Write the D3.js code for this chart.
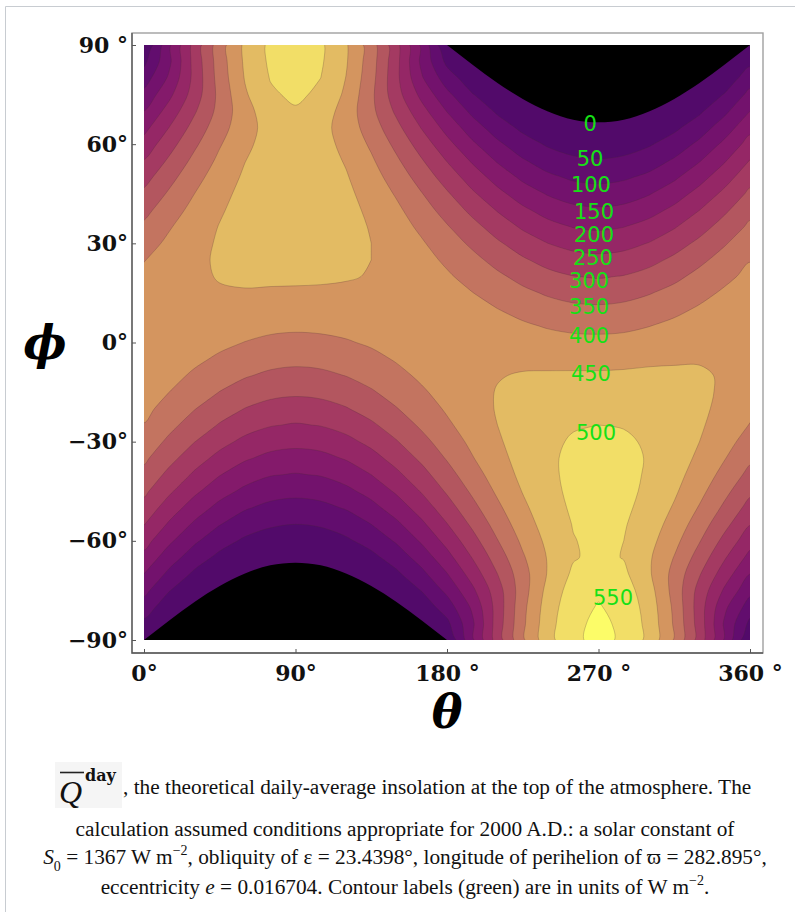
<!DOCTYPE html>
<html>
<head>
<meta charset="utf-8">
<script src="https://cdn.jsdelivr.net/npm/d3@7"></script>
<style>
  body { margin: 0; background: #fff; }
  svg { display: block; }
  .tick text { font-family: "DejaVu Serif", serif; font-weight: bold; font-size: 22px; fill: #111; }
  .tick line { stroke: #555; }
  .caption { font-family: "Liberation Serif", "Times New Roman", serif; font-size: 21.3px; fill: #111; }
  .clabel { font-family: "DejaVu Sans", sans-serif; font-size: 21px; fill: #16e016; }
</style>
</head>
<body>
<svg id="chart"></svg>
<script>
// grid the insolation was read on (degrees)
const thetaGrid = [0, 15, 30, 45, 60, 75, 90, 105, 120, 135, 150, 165, 180, 195, 210, 225, 240, 255, 270, 285, 300, 315, 330, 345, 360]
const phiGrid = [-90, -85, -80, -75, -70, -65, -60, -55, -50, -45, -40, -35, -30, -25, -20, -15, -10, -5, 0,
  5, 10, 15, 20, 25, 30, 35, 40, 45, 50, 55, 60, 65, 70, 75, 80, 85, 90]

// daily-average insolation, W m^-2 : one row per theta, values from phi = -90 to +90
const insolation = [
  [0, 38, 76, 114, 150, 185, 219, 252, 282, 310, 336, 359, 380, 398, 412, 424, 432, 437, 439, 437, 432, 424, 412, 398, 380, 359, 336, 310, 282, 252, 219, 185, 150, 114, 76, 38, 0],
  [0, 0, 19, 52, 88, 124, 159, 193, 226, 258, 287, 315, 340, 363, 383, 400, 414, 425, 432, 437, 438, 436, 431, 422, 410, 396, 378, 357, 334, 308, 281, 251, 220, 188, 158, 140, 141],
  [0, 0, 0, 12, 41, 74, 108, 142, 176, 210, 242, 272, 301, 328, 352, 374, 393, 409, 423, 433, 440, 444, 444, 442, 436, 427, 415, 400, 383, 363, 341, 318, 294, 273, 265, 268, 269],
  [0, 0, 0, 0, 12, 38, 69, 102, 135, 169, 202, 235, 266, 296, 323, 349, 372, 393, 410, 425, 438, 447, 452, 455, 455, 452, 445, 436, 425, 411, 396, 380, 367, 365, 372, 376, 378],
  [0, 0, 0, 0, 0, 16, 42, 73, 105, 139, 172, 206, 238, 270, 299, 328, 354, 377, 399, 417, 433, 447, 457, 464, 468, 469, 468, 464, 457, 449, 440, 432, 432, 444, 453, 458, 460],
  [0, 0, 0, 0, 0, 6, 28, 56, 87, 120, 153, 187, 220, 253, 284, 313, 341, 367, 390, 411, 430, 445, 458, 468, 475, 480, 481, 481, 478, 474, 469, 468, 479, 493, 502, 508, 510],
  [0, 0, 0, 0, 0, 3, 23, 50, 81, 113, 147, 180, 214, 246, 278, 308, 336, 362, 387, 408, 428, 444, 458, 469, 477, 482, 485, 486, 484, 481, 479, 480, 495, 509, 519, 525, 527],
  [0, 0, 0, 0, 0, 5, 27, 55, 87, 119, 153, 186, 219, 252, 283, 312, 340, 365, 389, 410, 428, 444, 456, 466, 473, 478, 479, 479, 476, 472, 468, 466, 478, 491, 500, 506, 508],
  [0, 0, 0, 0, 0, 16, 42, 72, 104, 138, 171, 204, 236, 268, 297, 325, 351, 375, 396, 414, 430, 443, 453, 460, 465, 466, 464, 460, 454, 446, 437, 429, 429, 441, 449, 455, 456],
  [0, 0, 0, 0, 11, 37, 68, 100, 134, 167, 200, 232, 263, 292, 320, 345, 368, 388, 406, 421, 433, 442, 448, 450, 450, 447, 441, 432, 420, 407, 392, 376, 363, 361, 368, 373, 374],
  [0, 0, 0, 12, 41, 73, 106, 140, 174, 207, 239, 269, 297, 323, 348, 369, 388, 404, 417, 427, 434, 438, 438, 436, 430, 421, 410, 395, 378, 358, 337, 314, 290, 269, 262, 265, 266],
  [0, 0, 19, 52, 87, 122, 157, 190, 223, 254, 283, 310, 335, 358, 377, 394, 408, 419, 426, 431, 432, 430, 425, 416, 405, 390, 372, 352, 329, 304, 277, 247, 217, 186, 155, 138, 139],
  [0, 38, 75, 112, 148, 183, 216, 248, 278, 306, 331, 354, 374, 392, 406, 417, 426, 430, 432, 430, 426, 417, 406, 392, 374, 354, 331, 306, 278, 248, 216, 183, 148, 112, 75, 38, 0],
  [141, 140, 158, 189, 221, 252, 281, 309, 335, 358, 379, 397, 411, 423, 432, 437, 439, 438, 434, 426, 415, 401, 384, 364, 341, 316, 288, 258, 227, 194, 159, 124, 88, 53, 19, 0, 0],
  [275, 274, 271, 278, 300, 324, 348, 370, 390, 408, 423, 435, 444, 450, 453, 452, 448, 441, 431, 417, 401, 381, 359, 334, 307, 278, 247, 214, 180, 145, 110, 75, 42, 13, 0, 0, 0],
  [392, 390, 386, 378, 380, 394, 410, 426, 440, 452, 462, 468, 471, 472, 469, 463, 453, 441, 425, 407, 385, 361, 335, 306, 276, 243, 210, 175, 140, 105, 71, 39, 12, 0, 0, 0, 0],
  [483, 481, 475, 466, 454, 454, 462, 472, 480, 487, 491, 493, 492, 487, 480, 469, 455, 438, 419, 396, 371, 344, 314, 283, 250, 216, 181, 146, 110, 76, 44, 17, 0, 0, 0, 0, 0],
  [541, 539, 533, 523, 509, 496, 498, 502, 507, 510, 511, 509, 504, 497, 486, 472, 456, 436, 414, 389, 362, 332, 301, 268, 234, 198, 163, 127, 92, 59, 29, 6, 0, 0, 0, 0, 0],
  [562, 560, 553, 543, 528, 512, 511, 514, 517, 518, 518, 515, 509, 500, 489, 474, 456, 436, 413, 387, 359, 328, 296, 263, 228, 192, 157, 121, 86, 53, 24, 3, 0, 0, 0, 0, 0],
  [543, 541, 535, 525, 510, 498, 500, 504, 509, 512, 512, 511, 506, 498, 488, 474, 457, 438, 415, 390, 363, 334, 302, 269, 234, 199, 163, 128, 93, 59, 29, 6, 0, 0, 0, 0, 0],
  [486, 484, 479, 470, 457, 457, 466, 475, 484, 491, 495, 497, 495, 491, 483, 472, 459, 442, 422, 399, 374, 347, 317, 285, 252, 218, 182, 147, 111, 77, 45, 17, 0, 0, 0, 0, 0],
  [396, 394, 390, 382, 384, 398, 415, 431, 445, 457, 466, 473, 476, 477, 474, 468, 458, 445, 430, 411, 389, 365, 338, 310, 279, 246, 212, 177, 142, 106, 72, 40, 12, 0, 0, 0, 0],
  [278, 277, 274, 282, 304, 329, 353, 375, 396, 414, 429, 441, 450, 456, 459, 458, 455, 447, 437, 423, 406, 386, 364, 339, 311, 281, 250, 217, 182, 147, 111, 76, 42, 13, 0, 0, 0],
  [143, 142, 160, 192, 224, 255, 285, 314, 340, 363, 384, 402, 417, 429, 438, 444, 446, 444, 440, 432, 421, 407, 389, 369, 346, 320, 292, 262, 230, 196, 162, 126, 89, 53, 20, 0, 0],
  [0, 38, 76, 114, 150, 185, 219, 252, 282, 310, 336, 359, 380, 398, 412, 424, 432, 437, 439, 437, 432, 424, 412, 398, 380, 359, 336, 310, 282, 252, 219, 185, 150, 114, 76, 38, 0]
]

// edge of the zero (polar night) region: |phi| where it starts, over half a year of theta
const nightTheta = [0, 15, 30, 45, 60, 75, 90, 105, 120, 135, 150, 165, 180]
const nightEdge = [90, 84.1, 78.5, 73.7, 69.9, 67.4, 66.6, 67.4, 69.9, 73.7, 78.5, 84.1, 90]

// contour levels and the fill of each band (first = the zero region)
const levels = [0, 50, 100, 150, 200, 250, 300, 350, 400, 450, 500, 550]
const bandColors = ['#000000', '#520a6a', '#620d6e', '#73126d', '#841a6b', '#952766', '#a43a62',
  '#b3565f', '#c37460', '#d4955f', '#e3bb63', '#f2de67', '#fcfc68']

// where the green level labels sit, [theta, phi]
const labelAnchors = [[265, 66], [265, 55.5], [265.5, 47.6], [267.3, 39.4], [267.3, 32.4], [266.7, 25.5],
  [264.4, 18.5], [264.4, 10.6], [264.4, 2.1], [265.5, -9.4], [268.5, -27.3], [278.6, -77.3]]

const thetaTicks = [0, 90, 180, 270, 360]
const thetaTickLabels = ['0°', '90°', '180 °', '270 °', '360 °']
const phiTicks = [-90, -60, -30, 0, 30, 60, 90]
const phiTickLabels = ['−90°', '−60°', '−30°', '0°', '30°', '60°', '90 °']

const width = 795
const height = 912
const plot = { left: 144, right: 750, top: 45, bottom: 640 }
const frame = { left: 132, right: 763, top: 33, bottom: 653 }

const svg = d3.select('#chart').attr('width', width).attr('height', height)

// thumbnail border
svg.append('path')
  .attr('d', `M5.5,${height} V6.5 H${width}`)
  .attr('fill', 'none')
  .attr('stroke', '#c8ccd1')

const x = d3.scaleLinear().domain([0, 360]).range([plot.left, plot.right])
const y = d3.scaleLinear().domain([-90, 90]).range([plot.bottom, plot.top])

// contour grid: row 0 is the top (phi = 90)
const nx = thetaGrid.length
const ny = phiGrid.length
const values = new Array(nx * ny)
for (let j = 0; j < ny; j++) {
  for (let i = 0; i < nx; i++) values[j * nx + i] = insolation[i][ny - 1 - j]
}
// grid coordinates -> data (d3.contours puts sample i at i + 0.5)
const gx = d3.scaleLinear().domain([0.5, nx - 0.5]).range([thetaGrid[0], thetaGrid[nx - 1]])
const gy = d3.scaleLinear().domain([0.5, ny - 0.5]).range([phiGrid[ny - 1], phiGrid[0]])

// the zero level is drawn from the night edge, the others from the grid
const contours = d3.contours()
  .size([nx, ny])
  .thresholds(levels.slice(1))(values)

const ringLine = d3.line().curve(d3.curveCatmullRomClosed.alpha(0.5))
const toPath = (mp) =>
  mp.coordinates
    .map((poly) =>
      poly.map((ring) => ringLine(ring.slice(0, -1).map(([cx, cy]) => [x(gx(cx)), y(gy(cy))]))).join('')
    )
    .join('')

svg.append('clipPath').attr('id', 'plot-clip')
  .append('rect')
  .attr('x', plot.left).attr('y', plot.top)
  .attr('width', plot.right - plot.left).attr('height', plot.bottom - plot.top)

const field = svg.append('g').attr('clip-path', 'url(#plot-clip)')

field.append('rect')
  .attr('x', plot.left).attr('y', plot.top)
  .attr('width', plot.right - plot.left).attr('height', plot.bottom - plot.top)
  .attr('fill', bandColors[1])

field.selectAll('path.band')
  .data(contours)
  .join('path')
  .attr('class', 'band')
  .attr('d', toPath)
  .attr('fill', (d, i) => bandColors[i + 2])
  .attr('fill-rule', 'evenodd')
  .attr('stroke', 'rgba(70,40,50,0.3)')
  .attr('stroke-width', 0.8)

// polar night: south in the first half of the year, north in the second
const southNight = d3.area()
  .curve(d3.curveMonotoneX)
  .x((d, i) => x(nightTheta[i]))
  .y0(y(-90))
  .y1((d) => y(-d))
const northNight = d3.area()
  .curve(d3.curveMonotoneX)
  .x((d, i) => x(nightTheta[i] + 180))
  .y0(y(90))
  .y1((d) => y(d))

field.append('path')
  .attr('d', southNight(nightEdge))
  .attr('fill', bandColors[0])
field.append('path')
  .attr('d', northNight(nightEdge))
  .attr('fill', bandColors[0])

// level labels
svg.append('g')
  .selectAll('text')
  .data(levels)
  .join('text')
  .attr('class', 'clabel')
  .attr('x', (d, i) => x(labelAnchors[i][0]))
  .attr('y', (d, i) => y(labelAnchors[i][1]))
  .attr('text-anchor', 'middle')
  .attr('dominant-baseline', 'central')
  .text((d) => d)

// frame
svg.append('rect')
  .attr('x', frame.left).attr('y', frame.top)
  .attr('width', frame.right - frame.left).attr('height', frame.bottom - frame.top)
  .attr('fill', 'none')
  .attr('stroke', '#a0a0a0')
  .attr('stroke-width', 1.4)
svg.append('path')
  .attr('d', `M${frame.left},${frame.top} V${frame.bottom} H${frame.right}`)
  .attr('fill', 'none')
  .attr('stroke', '#555')
  .attr('stroke-width', 1.3)

// axes (ticks point inward)
const yAxis = d3.axisLeft(y)
  .tickValues(phiTicks)
  .tickFormat((d, i) => phiTickLabels[i])
  .tickSizeInner(-4)
  .tickSizeOuter(0)
  .tickPadding(4)
svg.append('g')
  .attr('transform', `translate(${frame.left},0)`)
  .call(yAxis)
  .call((g) => g.select('.domain').remove())

const xAxis = d3.axisBottom(x)
  .tickValues(thetaTicks)
  .tickFormat((d, i) => thetaTickLabels[i])
  .tickSizeInner(-4)
  .tickSizeOuter(0)
svg.append('g')
  .attr('transform', `translate(0,${frame.bottom})`)
  .call(xAxis)
  .call((g) => g.select('.domain').remove())
  .call((g) => g.selectAll('.tick text').attr('y', 28).attr('dy', 0))

// axis titles
svg.append('text')
  .attr('x', 45).attr('y', 359)
  .attr('text-anchor', 'middle')
  .style('font-family', '"DejaVu Serif", serif')
  .style('font-weight', 'bold').style('font-style', 'italic')
  .style('font-size', '46px')
  .text('ϕ')
svg.append('text')
  .attr('x', 447).attr('y', 728)
  .attr('text-anchor', 'middle')
  .style('font-family', '"DejaVu Serif", serif')
  .style('font-weight', 'bold').style('font-style', 'italic')
  .style('font-size', '46px')
  .text('θ')

// caption
const cap = svg.append('g')
cap.append('rect')
  .attr('x', 55).attr('y', 762).attr('width', 67).attr('height', 46)
  .attr('fill', '#f5f5f5')
cap.append('text')
  .attr('x', 59).attr('y', 803)
  .style('font-family', '"Liberation Serif", serif')
  .style('font-style', 'italic')
  .style('font-size', '32px')
  .attr('fill', '#111')
  .text('Q')
cap.append('line')
  .attr('x1', 60).attr('x2', 84).attr('y1', 772.5).attr('y2', 772.5)
  .attr('stroke', '#222').attr('stroke-width', 1.6)
cap.append('text')
  .attr('x', 85).attr('y', 781)
  .style('font-family', '"DejaVu Serif", serif')
  .style('font-weight', 'bold')
  .style('font-size', '16px')
  .attr('fill', '#111')
  .text('day')

cap.append('text')
  .attr('class', 'caption')
  .attr('x', 123).attr('y', 794)
  .text(', the theoretical daily-average insolation at the top of the atmosphere. The')

cap.append('text')
  .attr('class', 'caption')
  .attr('x', 405).attr('y', 836)
  .attr('text-anchor', 'middle')
  .text('calculation assumed conditions appropriate for 2000 A.D.: a solar constant of')

const line3 = cap.append('text')
  .attr('class', 'caption')
  .attr('x', 405).attr('y', 864)
  .attr('text-anchor', 'middle')
line3.append('tspan').style('font-style', 'italic').text('S')
line3.append('tspan').attr('dy', 7).style('font-size', '14px').text('0')
line3.append('tspan').attr('dy', -7).text(' = 1367 W m')
line3.append('tspan').attr('dy', -9).style('font-size', '14px').text('−2')
line3.append('tspan').attr('dy', 9).text(', obliquity of ε = 23.4398°, longitude of perihelion of ϖ = 282.895°,')

const line4 = cap.append('text')
  .attr('class', 'caption')
  .attr('x', 405).attr('y', 894)
  .attr('text-anchor', 'middle')
line4.append('tspan').text('eccentricity ')
line4.append('tspan').style('font-style', 'italic').text('e')
line4.append('tspan').text(' = 0.016704. Contour labels (green) are in units of W m')
line4.append('tspan').attr('dy', -9).style('font-size', '14px').text('−2')
line4.append('tspan').attr('dy', 9).text('.')
</script>
</body>
</html>
